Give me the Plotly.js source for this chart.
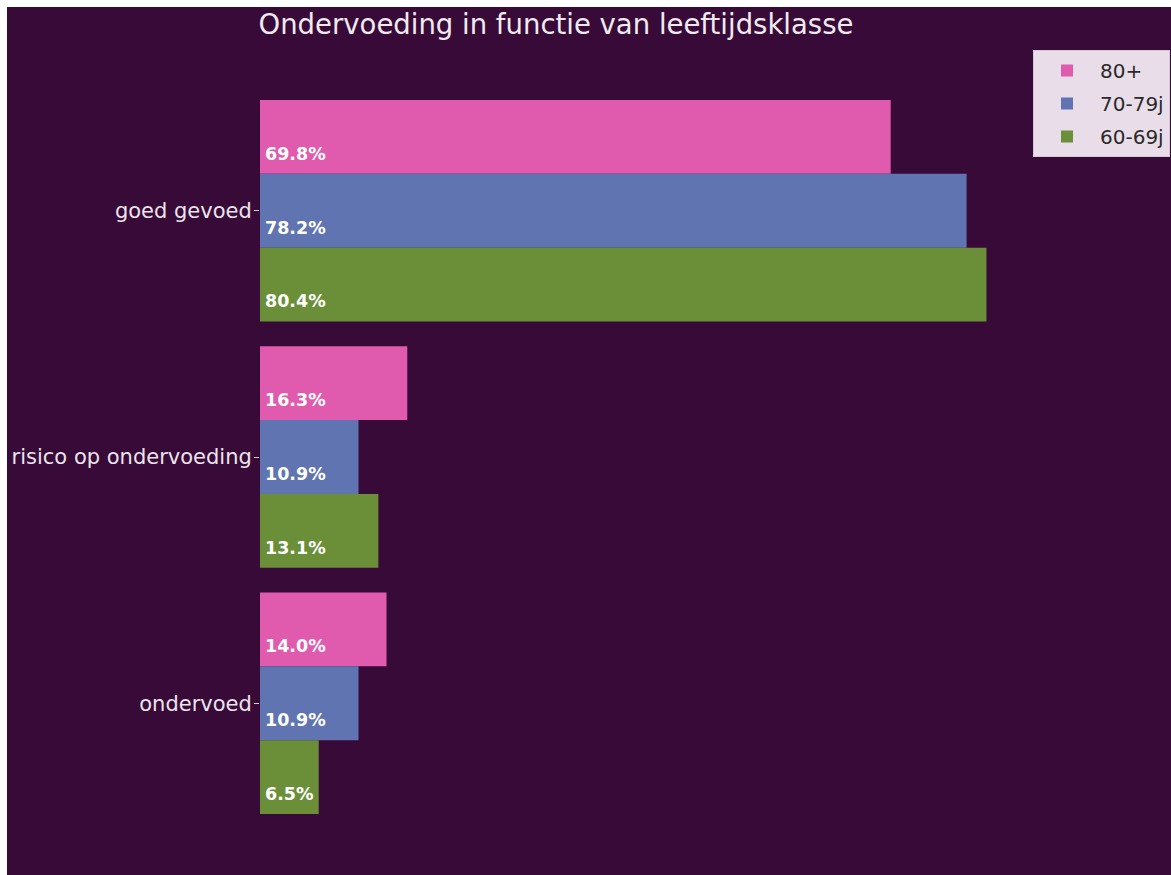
<!DOCTYPE html>
<html>
<head>
<meta charset="utf-8">
<script src="https://cdn.plot.ly/plotly-3.0.1.min.js"></script>
<style>html,body{margin:0;padding:0;background:#fff;}#chart{width:1171px;height:875px;}</style>
</head>
<body>
<div id="chart"></div>
<script>
// Data
const categories = ['ondervoed', 'risico op ondervoeding', 'goed gevoed'];
const seriesNames = ['80+', '70-79j', '60-69j'];
const values80 = [14.0, 16.3, 69.8];
const values70 = [10.9, 10.9, 78.2];
const values60 = [6.5, 13.1, 80.4];

const colors = ['#e05aae', '#5f74b0', '#6a8f38'];
const offsets = [0.3, 0, -0.3];
const labelPad = 0.55;      // small horizontal pad for value labels (data units)
const labelDrop = 0.075;    // labels sit a little below bar centre
const allValues = [values80, values70, values60];
const catIdx = categories.map((c, i) => i);

const traces = [];
allValues.forEach((vals, s) => {
  traces.push({
    type: 'bar',
    orientation: 'h',
    name: seriesNames[s],
    legendgroup: 'g' + s,
    x: vals,
    y: catIdx.map(i => i + offsets[s]),
    width: 0.3,
    marker: {color: colors[s], line: {width: 0}},
    hoverinfo: 'x+name',
    legendrank: s + 1
  });
});
allValues.forEach((vals, s) => {
  traces.push({
    type: 'scatter',
    mode: 'text',
    showlegend: false,
    x: vals.map(() => labelPad),
    y: catIdx.map(i => i + offsets[s] - labelDrop),
    text: vals.map(v => v.toFixed(1) + '%'),
    textposition: 'middle right',
    textfont: {family: 'DejaVu Sans', size: 17.5, color: '#ffffff', weight: 'bold'},
    cliponaxis: false,
    hoverinfo: 'skip'
  });
});

const layout = {
  width: 1171,
  height: 875,
  margin: {l: 260, r: 152, t: 63, b: 24},
  paper_bgcolor: '#370a37',
  plot_bgcolor: '#370a37',
  barmode: 'overlay',
  font: {family: 'DejaVu Sans', color: '#ece4ec'},
  title: {
    text: 'Ondervoeding in functie van leeftijdsklasse',
    font: {family: 'DejaVu Sans', size: 27.5, color: '#f0eaf0'},
    xref: 'container', x: 0.4748, xanchor: 'center',
    yref: 'container', y: 0.9725, yanchor: 'middle'
  },
  xaxis: {
    range: [0, 84],
    showgrid: false, zeroline: false, showline: false,
    showticklabels: false, ticks: ''
  },
  yaxis: {
    range: [-0.6, 2.6],
    tickvals: catIdx,
    ticktext: categories,
    ticks: 'outside', ticklen: 5, tickcolor: '#d8cdd8', tickwidth: 1,
    ticklabelstandoff: -2,
    tickfont: {family: 'DejaVu Sans', size: 21, color: '#ece4ec'},
    showgrid: false, zeroline: false, showline: false
  },
  showlegend: true,
  legend: {
    xref: 'container', yref: 'container',
    x: 1033 / 1171, y: 1 - 50 / 875,
    xanchor: 'left', yanchor: 'top',
    bgcolor: '#e8dde8', bordercolor: '#d4c9d4', borderwidth: 1,
    font: {family: 'DejaVu Sans', size: 20, color: '#2a2a2a'},
    itemwidth: 56,
    tracegroupgap: 4
  },
  shapes: [
    {type: 'rect', xref: 'paper', yref: 'paper', x0: -0.5, x1: 1.5, y0: 1 + (63 - 7) / 788, y1: 1.2,
     fillcolor: '#ffffff', line: {width: 0}, layer: 'above'},
    {type: 'rect', xref: 'paper', yref: 'paper', x0: -0.5, x1: (7 - 260) / 759, y0: -0.2, y1: 1.2,
     fillcolor: '#ffffff', line: {width: 0}, layer: 'above'}
  ]
};

Plotly.newPlot('chart', traces, layout, {displayModeBar: false, responsive: false});
</script>
</body>
</html>
